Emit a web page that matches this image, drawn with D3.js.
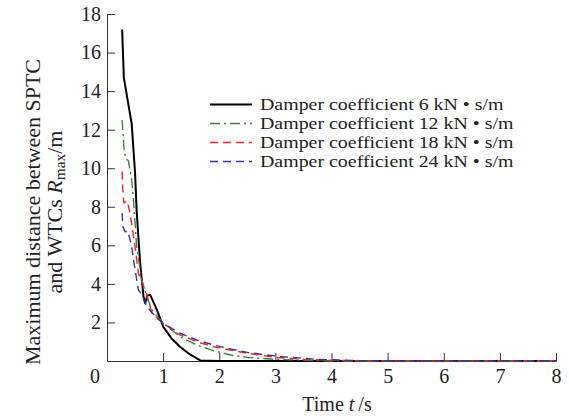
<!DOCTYPE html>
<html>
<head>
<meta charset="utf-8">
<script src="https://cdn.jsdelivr.net/npm/d3@7"></script>
<style>
  body { margin: 0; background: #fff; }
  text { font-family: "Liberation Serif", "Times New Roman", serif; }
</style>
</head>
<body>
<svg id="chart" width="569" height="420"></svg>
<script>
// values (time in s, distance in m)
const t6  = [0.27, 0.30, 0.44, 0.50, 0.53, 0.59, 0.65, 0.68, 0.72, 0.77, 0.89, 1.0, 1.15, 1.3, 1.45, 1.6, 1.66, 2.0, 8.0];
const r6  = [17.2, 14.7, 12.3, 9.75, 7.7, 5.1, 3.34, 3.0, 3.4, 3.43, 2.65, 1.78, 1.17, 0.74, 0.4, 0.14, 0.03, 0.0, 0.0];
const t12 = [0.27, 0.30, 0.33, 0.38, 0.44, 0.47, 0.53, 0.62, 0.71, 0.80, 1.0, 1.3, 1.6, 1.9, 2.2, 2.5, 2.97, 3.5, 4.0, 8.0];
const r12 = [12.5, 11.1, 10.5, 10.4, 9.4, 8.4, 5.9, 4.2, 3.34, 2.65, 1.96, 1.26, 0.83, 0.54, 0.31, 0.19, 0.09, 0.04, 0.0, 0.0];
const t18 = [0.27, 0.28, 0.30, 0.36, 0.41, 0.50, 0.56, 0.65, 0.71, 0.80, 1.0, 1.3, 1.6, 1.9, 2.2, 2.5, 2.79, 3.0, 3.5, 4.0, 4.6, 8.0];
const r18 = [9.83, 9.0, 8.2, 8.3, 7.67, 5.94, 4.55, 3.86, 3.43, 2.48, 1.96, 1.35, 1.0, 0.74, 0.57, 0.4, 0.28, 0.19, 0.09, 0.04, 0.0, 0.0];
const t24 = [0.27, 0.28, 0.32, 0.37, 0.44, 0.50, 0.56, 0.62, 0.71, 0.89, 1.0, 1.3, 1.6, 1.9, 2.2, 2.5, 2.8, 3.14, 3.73, 4.5, 4.6, 8.0];
const r24 = [7.67, 7.0, 6.7, 6.75, 5.94, 4.73, 3.69, 3.43, 2.82, 2.22, 1.96, 1.44, 1.09, 0.83, 0.62, 0.45, 0.33, 0.22, 0.09, 0.02, 0.0, 0.0];

const seriesNames = ['Damper coefficient 6 kN \u2022 s/m', 'Damper coefficient 12 kN \u2022 s/m',
                     'Damper coefficient 18 kN \u2022 s/m', 'Damper coefficient 24 kN \u2022 s/m'];
const xTicks = [1, 2, 3, 4, 5, 6, 7, 8];
const yTicks = [2, 4, 6, 8, 10, 12, 14, 16, 18];

const series = [
  {name: seriesNames[0], t: t6,  r: r6,  color: '#000000', dash: null,       width: 2},
  {name: seriesNames[1], t: t12, r: r12, color: '#3d7f3d', dash: '10,4,2,4', width: 1.4},
  {name: seriesNames[2], t: t18, r: r18, color: '#ff1f1f', dash: '8,5',      width: 1.4},
  {name: seriesNames[3], t: t24, r: r24, color: '#3535a5', dash: '8,5',      width: 1.4}
];

const svg = d3.select('#chart');
const x = d3.scaleLinear().domain([0, 8]).range([107, 556]);
const y = d3.scaleLinear().domain([0, 18]).range([361, 14]);

// axes with inward ticks
svg.append('g')
  .attr('transform', 'translate(0,361)')
  .call(d3.axisBottom(x).tickValues(xTicks).tickSize(-8).tickSizeOuter(0).tickPadding(8))
  .call(g => g.selectAll('text').attr('font-size', 20).attr('fill', '#222').attr('dy', '0.71em'))
  .call(g => g.selectAll('line, path').attr('stroke', '#333'));

svg.append('g')
  .attr('transform', 'translate(107,0)')
  .call(d3.axisLeft(y).tickValues(yTicks).tickSize(-8).tickSizeOuter(0).tickPadding(6))
  .call(g => g.selectAll('text').attr('font-size', 20).attr('fill', '#222'))
  .call(g => g.selectAll('line, path').attr('stroke', '#333'));

// shared origin label
svg.append('text').attr('x', 95).attr('y', 383).attr('text-anchor', 'middle')
  .attr('font-size', 20).attr('fill', '#222').text('0');

const line = d3.line().x(d => x(d[0])).y(d => y(d[1]));

series.forEach(s => {
  svg.append('path')
    .datum(d3.zip(s.t, s.r))
    .attr('d', line)
    .attr('fill', 'none')
    .attr('stroke', s.color)
    .attr('stroke-width', s.width)
    .attr('stroke-linejoin', 'round')
    .attr('stroke-dasharray', s.dash);
});

// legend
const leg = svg.append('g');
series.forEach((s, i) => {
  const ly = 104.5 + i * 19;
  leg.append('line').attr('x1', 210).attr('x2', 252).attr('y1', ly).attr('y2', ly)
    .attr('stroke', s.color).attr('stroke-width', s.width).attr('stroke-dasharray', s.dash);
  leg.append('text').attr('transform', `translate(260,${ly + 5.5}) scale(1.17,1)`)
    .attr('font-size', 17).attr('fill', '#222').text(s.name);
});

// axis titles
const yl = svg.append('text').attr('transform', 'translate(40,212) rotate(-90) scale(1.1,1)')
  .attr('text-anchor', 'middle').attr('font-size', 20).attr('fill', '#222');
yl.append('tspan').attr('x', 0).attr('dy', 0).text('Maximum distance between SPTC');
yl.append('tspan').attr('x', 0).attr('dy', 22).text('and WTCs ');
yl.append('tspan').attr('font-style', 'italic').text('R');
yl.append('tspan').attr('font-size', 14).attr('dy', 3).text('max');
yl.append('tspan').attr('dy', -3).text('/m');

const xl = svg.append('text').attr('x', 337).attr('y', 411).attr('text-anchor', 'middle')
  .attr('font-size', 20).attr('fill', '#222');
xl.append('tspan').text('Time ');
xl.append('tspan').attr('font-style', 'italic').text('t');
xl.append('tspan').text('\u2009/s');
</script>
</body>
</html>
